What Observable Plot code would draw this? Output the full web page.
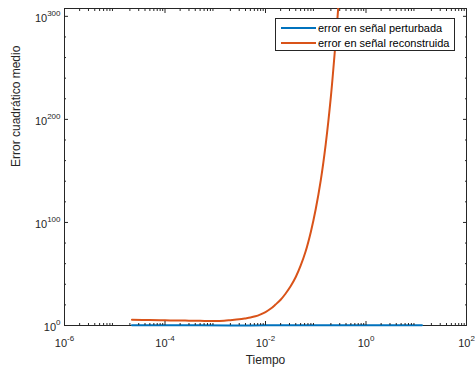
<!DOCTYPE html>
<html><head><meta charset="utf-8">
<script src="https://cdn.jsdelivr.net/npm/d3@7"></script>
<script src="https://cdn.jsdelivr.net/npm/@observablehq/plot@0.6"></script>
<style>
body{margin:0;background:#fff;}
#chart{position:relative;width:475px;height:370px;font-family:"Liberation Sans",Arial,sans-serif;}
.legend{position:absolute;left:275px;top:18px;width:180px;height:33px;border:1px solid #262626;background:#fff;box-sizing:border-box;font-size:11px;color:#000;}
.legend .row{position:absolute;left:0;height:14px;}
.legend .sw{position:absolute;left:5px;width:35px;height:2px;}
.legend .lab{position:absolute;left:42px;white-space:nowrap;line-height:14px;}
</style></head><body><div id="chart"></div>
<script>
// Data (time, log10 of mean squared error)
const blueT   = [2.2e-5, 1e-4, 5e-4, 2e-3, 5e-3, 1e-2, 0.1, 1, 13];
const blueExp = [0.3, 0.3, 0.25, 0.1, 0.1, 0.2, 0.25, 0.25, 0.25];
const redT    = [2.2e-5, 5e-5, 1e-4, 2e-4, 3e-4, 5e-4, 1e-3, 1.5e-3, 2e-3, 3e-3, 4e-3, 5e-3, 6.3e-3, 8e-3, 0.01, 0.0126, 0.0158, 0.02, 0.025, 0.0316, 0.04, 0.05, 0.063, 0.08, 0.1, 0.126, 0.158, 0.2, 0.25, 0.28];
const redExp  = [5.5, 5.3, 5.0, 4.8, 4.7, 4.55, 4.4, 4.7, 5.2, 6.0, 6.9, 7.7, 8.9, 10.8, 13, 16.2, 20.3, 25, 30.8, 38, 47, 58, 72, 91, 113, 141, 176, 222, 277, 308];
const seriesNames = ["error en señal perturbada", "error en señal reconstruida"];
const colors = ["#0072BD", "#D95319"];
const xTicks = [1e-6, 1e-4, 1e-2, 1, 1e2];
const xMinorMult = [2, 3, 4, 5, 6, 7, 8, 9];
const yTickExp = [0, 100, 200, 300];
const yMinorExp = [20, 40, 60, 80, 120, 140, 160, 180, 220, 240, 260, 280];
const xLabel = "Tiempo";
const yLabel = "Error cuadrático medio";

const blue = blueT.map((t, i) => ({t, v: 10 ** blueExp[i]}));
const red = redT.map((t, i) => ({t, v: 10 ** redExp[i]}));
const yTicks = yTickExp.map(e => 10 ** e);
const yMinor = yMinorExp.map(e => 10 ** e);
const xMinor = [];
for (let k = -6; k < 2; k++) for (const m of xMinorMult) xMinor.push(m * 10 ** k);
const ax = "#262626";
const expFmt = d => "10^" + Math.round(Math.log10(d));

const plot = Plot.plot({
  width: 475, height: 370,
  marginLeft: 64, marginRight: 9, marginTop: 8, marginBottom: 45,
  style: {fontFamily: "Liberation Sans, Arial, sans-serif", fontSize: "11px", color: ax, background: "white"},
  x: {type: "log", domain: [1e-6, 1e2]},
  y: {type: "log", domain: [1, 10 ** 307.6]},
  marks: [
    Plot.frame({stroke: ax}),
    Plot.line(red, {x: "t", y: "v", stroke: colors[1], strokeWidth: 2, curve: "catmull-rom", clip: true}),
    Plot.line(blue, {x: "t", y: "v", stroke: colors[0], strokeWidth: 2}),
    // inward ticks
    Plot.axisX(xTicks, {anchor: "bottom", tickSize: 4, dy: -4, fill: "none", stroke: ax, label: null}),
    Plot.axisX(xTicks, {anchor: "top", tickSize: 4, dy: 4, fill: "none", stroke: ax, label: null}),
    Plot.axisX(xMinor, {anchor: "bottom", tickSize: 2, dy: -2, fill: "none", stroke: ax, label: null}),
    Plot.axisX(xMinor, {anchor: "top", tickSize: 2, dy: 2, fill: "none", stroke: ax, label: null}),
    Plot.axisY(yTicks, {anchor: "left", tickSize: 4, dx: 4, fill: "none", stroke: ax, label: null}),
    Plot.axisY(yTicks, {anchor: "right", tickSize: 4, dx: -4, fill: "none", stroke: ax, label: null}),
    Plot.axisY(yMinor, {anchor: "left", tickSize: 2, dx: 2, fill: "none", stroke: ax, label: null}),
    Plot.axisY(yMinor, {anchor: "right", tickSize: 2, dx: -2, fill: "none", stroke: ax, label: null}),
    // tick labels
    Plot.axisX(xTicks, {anchor: "bottom", tickSize: 0, tickPadding: 14, tickFormat: expFmt, fill: ax, label: null}),
    Plot.axisY(yTicks, {anchor: "left", tickSize: 0, tickPadding: 4, dy: 2, tickFormat: expFmt, fill: ax, label: null}),
    // axis titles
    Plot.text([xLabel], {frameAnchor: "bottom", dy: 38, text: d => d, fontSize: 12, fill: ax}),
    Plot.text([yLabel], {frameAnchor: "left", dx: -48, rotate: -90, text: d => d, fontSize: 12, fill: ax})
  ]
});

const ns = "http://www.w3.org/2000/svg";
function sup(label) {
  plot.querySelectorAll(`g[aria-label="${label}"] text`).forEach(t => {
    const parts = t.textContent.split("^");
    if (parts.length < 2) return;
    t.textContent = "";
    const a = document.createElementNS(ns, "tspan"); a.textContent = parts[0];
    const b = document.createElementNS(ns, "tspan"); b.textContent = parts[1];
    b.setAttribute("dy", "-6"); b.setAttribute("font-size", "8px");
    t.append(a, b);
  });
}
sup("x-axis tick label");
sup("y-axis tick label");

const chart = document.getElementById("chart");
chart.append(plot);
const leg = document.createElement("div");
leg.className = "legend";
seriesNames.forEach((n, i) => {
  const row = document.createElement("div");
  row.className = "row";
  row.style.top = (1.5 + i * 15.6) + "px";
  row.innerHTML = `<div class="sw" style="top:6px;background:${colors[i]}"></div><div class="lab">${n}</div>`;
  leg.append(row);
});
chart.append(leg);
</script></body></html>
